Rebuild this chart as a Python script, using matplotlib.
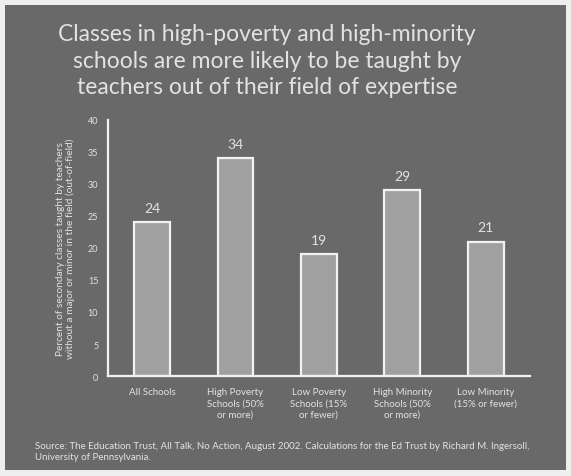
import matplotlib.pyplot as plt
from matplotlib.patches import Rectangle
import numpy as np

categories = ['All Schools',
              'High Poverty\nSchools (50%\nor more)',
              'Low Poverty\nSchools (15%\nor fewer)',
              'High Minority\nSchools (50%\nor more)',
              'Low Minority\n(15% or fewer)']
values = [24, 34, 19, 29, 21]
yticks = [0, 5, 10, 15, 20, 25, 30, 35, 40]

title = ('Classes in high-poverty and high-minority\n'
         'schools are more likely to be taught by\n'
         'teachers out of their field of expertise')
ylabel = ('Percent of secondary classes taught by teachers\n'
          'without a major or minor in the field (out-of-field)')
source = ('Source: The Education Trust, All Talk, No Action, August 2002. '
          'Calculations for the Ed Trust by Richard M. Ingersoll,\n'
          'University of Pennsylvania.')

bg = '#696969'
fg = '#e2e2e2'
plt.rcParams['font.family'] = ['Lato', 'DejaVu Sans']

fig = plt.figure(figsize=(5.71, 4.77), dpi=100)
fig.patch.set_facecolor('#eeeeee')
# dark panel inside a thin light frame
fig.add_artist(Rectangle((5 / 571, 6 / 477), 561 / 571, 465 / 477,
                         transform=fig.transFigure, facecolor=bg,
                         edgecolor='none', zorder=0))

fig.text(267 / 571, 1 - 61 / 477, title, ha='center', va='center', color=fg,
         fontsize=16.5, linespacing=1.3)

ax = fig.add_axes([0.189, 0.2096, 0.739, 0.537])
ax.set_facecolor('none')
x = np.arange(len(values))
ax.bar(x, values, width=0.43, color='#a0a0a0', edgecolor='#f2f2f2',
       linewidth=1.6, zorder=2)
for xi, v in zip(x, values):
    ax.text(xi, v + 1.3, str(v), ha='center', va='bottom', color=fg,
            fontsize=10)

ax.set_xlim(-0.53, 4.53)
ax.set_ylim(0, 40)
ax.set_yticks(yticks)
ax.set_yticklabels([str(t) for t in yticks], fontsize=6.5, color=fg)
ax.set_xticks(x)
ax.set_xticklabels(categories, fontsize=7, color=fg, linespacing=1.3,
                   va='top')
ax.tick_params(length=0, pad=7)
ax.tick_params(axis='x', pad=8)
for side in ['top', 'right']:
    ax.spines[side].set_visible(False)
for side in ['left', 'bottom']:
    ax.spines[side].set_color('#f2f2f2')
    ax.spines[side].set_linewidth(1.6)

ax.set_ylabel(ylabel, fontsize=7.3, color=fg, linespacing=1.15, labelpad=9)

fig.text(35 / 571, 1 - 452 / 477, source, ha='left', va='center',
         color=fg, fontsize=7, linespacing=1.4)

fig.savefig('out.png', dpi=100, facecolor=fig.get_facecolor())
